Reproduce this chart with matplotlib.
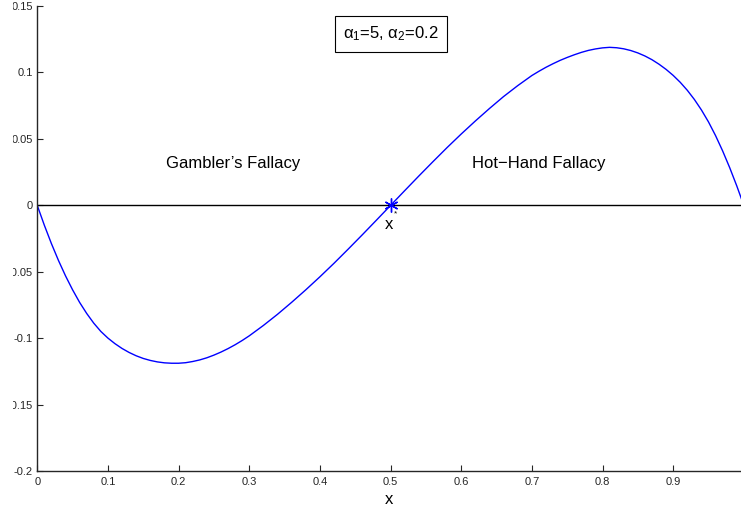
import numpy as np
import matplotlib
matplotlib.use('Agg')
import matplotlib.pyplot as plt
from matplotlib.transforms import Bbox, TransformedBbox

# values
x_vals = [0.00, 0.01, 0.02, 0.03, 0.04, 0.05, 0.06, 0.07, 0.08, 0.09,
          0.10, 0.11, 0.12, 0.13, 0.14, 0.15, 0.16, 0.17, 0.18, 0.19,
          0.20, 0.21, 0.22, 0.23, 0.24, 0.25, 0.26, 0.27, 0.28, 0.29,
          0.30, 0.32, 0.34, 0.36, 0.38, 0.40, 0.42, 0.44, 0.46, 0.48,
          0.50, 0.52, 0.54, 0.56, 0.58, 0.60, 0.62, 0.64, 0.66, 0.68,
          0.70, 0.71, 0.72, 0.73, 0.74, 0.75, 0.76, 0.77, 0.78, 0.79,
          0.80, 0.81, 0.82, 0.83, 0.84, 0.85, 0.86, 0.87, 0.88, 0.89,
          0.90, 0.91, 0.92, 0.93, 0.94, 0.95, 0.96, 0.97, 0.98, 0.99, 1.00]
y_vals = [0.0000, -0.0149, -0.0287, -0.0414, -0.0530, -0.0635, -0.0730, -0.0813, -0.0886, -0.0948,
          -0.0998, -0.1040, -0.1076, -0.1106, -0.1131, -0.1151, -0.1166, -0.1177, -0.1184, -0.1187,
          -0.1187, -0.1183, -0.1174, -0.1162, -0.1146, -0.1126, -0.1103, -0.1077, -0.1048, -0.1016,
          -0.0981, -0.0903, -0.0819, -0.0729, -0.0635, -0.0537, -0.0435, -0.0329, -0.0221, -0.0111,
          0.0000, 0.0111, 0.0221, 0.0329, 0.0435, 0.0537, 0.0635, 0.0729, 0.0819, 0.0901,
          0.0977, 0.1009, 0.1039, 0.1066, 0.1091, 0.1113, 0.1133, 0.1151, 0.1166, 0.1177,
          0.1185, 0.1189, 0.1186, 0.1178, 0.1165, 0.1147, 0.1124, 0.1096, 0.1062, 0.1023,
          0.0978, 0.0926, 0.0866, 0.0797, 0.0718, 0.0628, 0.0525, 0.0410, 0.0284, 0.0147, 0.0000]

x_star = 0.5
y_ticks = [-0.2, -0.15, -0.1, -0.05, 0, 0.05, 0.1, 0.15]
y_ticklabels = ['-0.2', '-0.15', '-0.1', '-0.05', '0', '0.05', '0.1', '0.15']
x_ticks = [0, 0.1, 0.2, 0.3, 0.4, 0.5, 0.6, 0.7, 0.8, 0.9]
x_ticklabels = ['0', '0.1', '0.2', '0.3', '0.4', '0.5', '0.6', '0.7', '0.8', '0.9']

plt.rcParams['font.family'] = ['Liberation Sans', 'DejaVu Sans']
plt.rcParams['mathtext.fontset'] = 'custom'
plt.rcParams['mathtext.rm'] = 'Liberation Sans'
plt.rcParams['mathtext.it'] = 'Liberation Sans'

fig = plt.figure(figsize=(7.41, 5.08), dpi=100)
ax = fig.add_axes([0.0503, 0.0722, 0.9497, 0.916])

ax.axhline(0, color='black', lw=1.0)
ax.plot(x_vals, y_vals, color='#0000ff', lw=1.0)
ax.plot([x_star], [0], marker=(6, 2, 0), color='#0000ff', ms=10, mew=1.0)

ax.set_xlim(0, 0.996)
ax.set_ylim(-0.2, 0.15)
ax.set_xticks(x_ticks)
ax.set_xticklabels(x_ticklabels)
ax.set_yticks(y_ticks)
ax.set_yticklabels(y_ticklabels)
ax.tick_params(direction='in', length=4.3, width=0.8, labelsize=8, colors='#262626')
ax.tick_params(axis='x', pad=4)
ax.tick_params(axis='y', pad=3)

for s in ['top', 'right']:
    ax.spines[s].set_visible(False)
for s in ['left', 'bottom']:
    ax.spines[s].set_linewidth(1.0)
    ax.spines[s].set_color('#262626')

# left edge of the original picture cuts the longer tick labels
clip = TransformedBbox(Bbox([[12.5 / 741, 0], [1, 1]]), fig.transFigure)
for lab in ax.get_yticklabels():
    lab.set_clip_box(clip)
    lab.set_clip_on(True)

ax.set_xlabel('x', fontsize=12, labelpad=4)

ax.text(0.277, 0.0318, "Gambler’s Fallacy", fontsize=12, ha='center', va='center')
ax.text(0.710, 0.0318, "Hot\u2212Hand Fallacy", fontsize=12, ha='center', va='center')
ax.text(0.5005, 0.1289, r'α$_1$=5, α$_2$=0.2', fontsize=12, ha='center', va='center',
        bbox=dict(boxstyle='square,pad=0.5', fc='white', ec='black', lw=0.8))

ax.text(0.4985, -0.0145, 'x', fontsize=12, ha='center', va='center')
ax.text(0.5075, -0.0065, '*', fontsize=6, ha='center', va='center')

fig.savefig('out.png', dpi=100)
